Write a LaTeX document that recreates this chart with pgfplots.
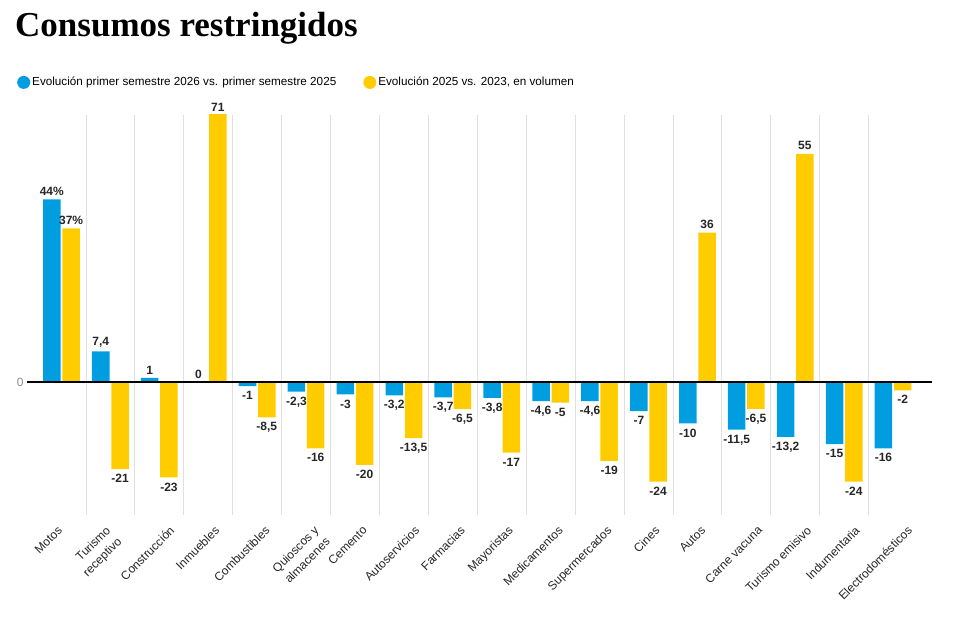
\documentclass[border=0pt]{standalone}
\usepackage{pgfplots}
\pgfplotsset{compat=1.18}
\usepackage{pgfplotstable}
\usepackage{fontspec}
\setmainfont{Liberation Sans}
\newfontfamily\titlefont{Liberation Serif}
\definecolor{cblue}{RGB}{0,158,224}
\definecolor{cyellow}{RGB}{255,204,0}
\pgfplotstableread{
x  b     bl     y     yl     ly
0  44    44\%   37    37\%   37
1  7.4   7,4    -21   -21    -21
2  1     1      -23   -23    -23
3  0     0      71    71     64.34
4  -1    -1     -8.5  -8,5   -8.5
5  -2.3  -2,3   -16   -16    -16
6  -3    -3     -20   -20    -20
7  -3.2  -3,2   -13.5 -13,5  -13.5
8  -3.7  -3,7   -6.5  -6,5   -6.5
9  -3.8  -3,8   -17   -17    -17
10 -4.6  -4,6   -5    -5     -5
11 -4.6  -4,6   -19   -19    -19
12 -7    -7     -24   -24    -24
13 -10   -10    36    36     36
14 -11.5 -11,5  -6.5  -6,5   -6.5
15 -13.2 -13,2  55    55     55
16 -15   -15    -24   -24    -24
17 -16   -16    -2    -2     -2
}\datatable
\pgfplotsset{
  lab/.style={draw=none, mark=none, forget plot, nodes near coords, point meta=explicit symbolic},
  labup/.style={lab, restrict y to domain=0:200, every node near coord/.append style={anchor=south}},
  labdn/.style={lab, restrict y to domain=-200:-0.01, every node near coord/.append style={anchor=north, yshift=-1.5pt}},
}
\begin{document}
\begin{tikzpicture}
\useasboundingbox (0,0) rectangle (955pt,621pt);
\node[anchor=base west, inner sep=0pt, font=\titlefont\bfseries\fontsize{35}{35}\selectfont] at (15pt,584pt) {Consumos restringidos};
\begin{axis}[
  at={(27pt,106pt)}, anchor=south west,
  width=905pt, height=400pt, scale only axis,
  xmin=-0.7045, xmax=17.7955, ymin=-32.05, ymax=64.34,
  axis line style={draw=none},
  xtick={0.04,1.02,2.33,3.25,4.28,5.28,6.27,7.34,8.27,9.25,10.27,11.27,12.25,13.19,14.35,15.35,16.34,17.41},
  xticklabels={Motos,{Turismo\\receptivo},Construcción,Inmuebles,Combustibles,{Quioscos y\\almacenes},Cemento,Autoservicios,Farmacias,Mayoristas,Medicamentos,Supermercados,Cines,Autos,Carne vacuna,Turismo emisivo,Indumentaria,Electrodomésticos},
  xticklabel style={xshift=-6.5pt, yshift=-10pt, rotate=45, anchor=north east, align=right, font=\fontsize{12}{16}\selectfont, inner sep=0pt, text=black!85},
  major tick length=0pt, minor tick length=0pt,
  minor xtick={0.5,1.5,...,16.5},
  xminorgrids, minor grid style={black!12, line width=0.8pt},
  ytick=\empty,
  extra y ticks={0}, extra y tick labels={0},
  extra y tick style={grid=major, major grid style={black, line width=1.4pt}, yticklabel style={text=black!45, font=\fontsize{12}{12}\selectfont}},
  axis on top,
  every node near coord/.append style={font=\bfseries\fontsize{12}{12}\selectfont, text=black!85, inner sep=3.5pt},
  legend columns=2,
  legend image code/.code={\fill[#1,draw=none] (0pt,0pt) circle (6.5pt);},
  legend style={at={(-0.01105,1.0815)}, anchor=west, draw=none, fill=none, inner sep=0pt,
    font=\fontsize{11.7}{12}\selectfont, nodes={inner sep=2pt},
    /tikz/every even column/.append style={column sep=25pt}},
]
\addplot[ybar, bar width=0.358, fill=cblue, draw=none, bar shift=-0.197] table[x=x, y=b] {\datatable};
\addlegendentry{Evolución primer semestre 2026 vs. primer semestre 2025}
\addplot[ybar, bar width=0.358, fill=cyellow, draw=none, bar shift=0.197] table[x=x, y=y] {\datatable};
\addlegendentry{Evolución 2025 vs. 2023, en volumen}
\addplot[labup] table[x expr=\thisrow{x}-0.197, y=b, meta=bl] {\datatable};
\addplot[labdn] table[x expr=\thisrow{x}-0.197, y=b, meta=bl] {\datatable};
\addplot[labup] table[x expr=\thisrow{x}+0.197, y=ly, meta=yl] {\datatable};
\addplot[labdn] table[x expr=\thisrow{x}+0.197, y=ly, meta=yl] {\datatable};
\end{axis}
\end{tikzpicture}
\end{document}
